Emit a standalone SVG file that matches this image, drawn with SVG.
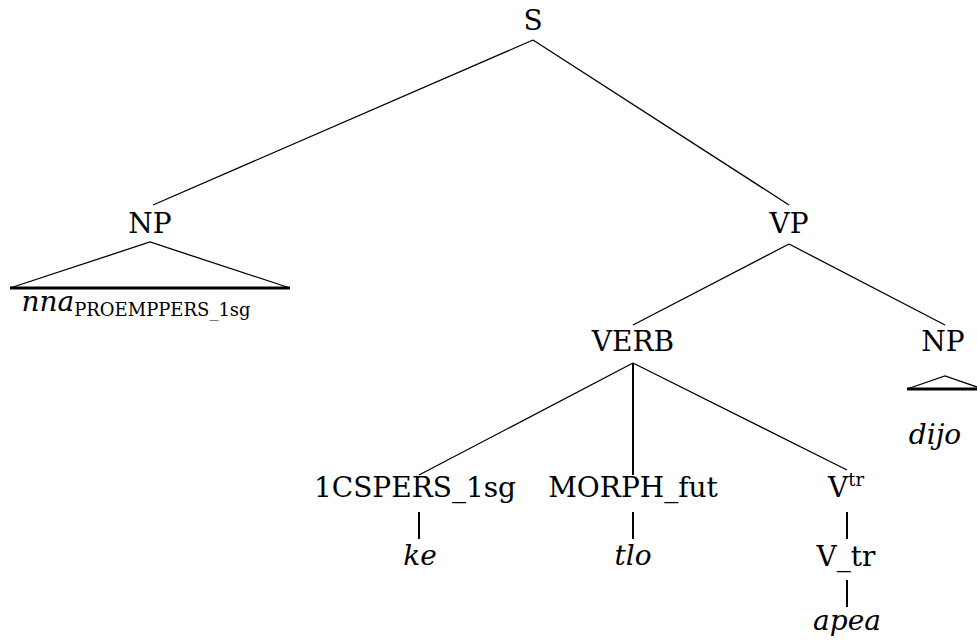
<svg xmlns="http://www.w3.org/2000/svg" width="977" height="641" viewBox="0 0 977 641">
  <style>
    text { font-family: "DejaVu Serif", serif; font-size: 28px; fill: #000; text-anchor: middle; }
    .it { font-style: italic; }
    .sub { font-size: 18px; }
    .edge { stroke: #000; stroke-width: 1.3; fill: none; }
    .unary { stroke: #000; stroke-width: 2; fill: none; }
    .roof { stroke: #000; stroke-width: 1.3; fill: none; }
    .roofbase { stroke: #000; stroke-width: 3; fill: none; }
  </style>
  <rect width="977" height="641" fill="#fff"/>

  <g id="connectors">
    <line class="edge" x1="533" y1="40" x2="153" y2="205"/>
    <line class="edge" x1="533" y1="40" x2="789" y2="205"/>
    <line class="edge" x1="789" y1="244" x2="633" y2="325"/>
    <line class="edge" x1="789" y1="244" x2="945" y2="325"/>
    <line class="edge" x1="633" y1="363" x2="419" y2="475"/>
    <line class="unary" x1="633" y1="363" x2="633" y2="475"/>
    <line class="edge" x1="633" y1="363" x2="847" y2="470"/>
    <line class="unary" x1="419" y1="512" x2="419" y2="539"/>
    <line class="unary" x1="633" y1="512" x2="633" y2="539"/>
    <line class="unary" x1="847" y1="512" x2="847" y2="539"/>
    <line class="unary" x1="847" y1="580" x2="847" y2="607"/>
  </g>

  <g id="node-S"><text x="533" y="30">S</text></g>

  <g id="node-NP-subject">
    <text x="150" y="233">NP</text>
    <polyline class="roof" points="10,288 150,242 290,288"/>
    <line class="roofbase" x1="10" y1="288" x2="290" y2="288"/>
    <text x="136" y="311"><tspan class="it">nna</tspan><tspan class="sub" dy="5">PROEMPPERS_1sg</tspan></text>
  </g>

  <g id="node-VP"><text x="789" y="233">VP</text></g>

  <g id="node-VERB"><text x="633" y="351">VERB</text></g>

  <g id="node-NP-object">
    <text x="943" y="351">NP</text>
    <polyline class="roof" points="907,389 945,376 983,389"/>
    <line class="roofbase" x1="907" y1="389" x2="983" y2="389"/>
    <text class="it" x="935" y="444">dijo</text>
  </g>

  <g id="node-1CSPERS"><text x="415" y="497">1CSPERS_1sg</text></g>
  <g id="node-ke"><text class="it" x="420" y="565">ke</text></g>

  <g id="node-MORPH"><text x="633" y="497">MORPH_fut</text></g>
  <g id="node-tlo"><text class="it" x="633" y="565">tlo</text></g>

  <g id="node-Vtr-super"><text x="846" y="497">V<tspan class="sub" dy="-11">tr</tspan></text></g>
  <g id="node-Vtr"><text x="846" y="566">V_tr</text></g>
  <g id="node-apea"><text class="it" x="847" y="630">apea</text></g>
</svg>
